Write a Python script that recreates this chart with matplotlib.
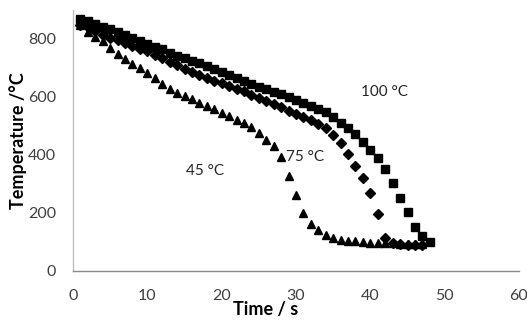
import matplotlib
matplotlib.use("Agg")
import matplotlib.pyplot as plt

# ---- data ----
t_100 = list(range(1, 49))
T_100 = [870, 862, 852, 843, 833, 823, 813, 803, 793, 783,
         773, 764, 752, 742, 733, 724, 716, 707, 697, 687,
         676, 665, 655, 645, 636, 627, 618, 609, 600, 591,
         580, 569, 558, 547, 530, 512, 494, 472, 446, 416,
         390, 352, 304, 253, 204, 152, 121, 100]

t_75 = list(range(1, 48))
T_75 = [850, 840, 828, 815, 805, 795, 786, 777, 767, 757,
        746, 735, 722, 710, 698, 687, 676, 666, 656, 647,
        638, 628, 619, 608, 598, 587, 576, 565, 553, 542,
        532, 520, 508, 492, 470, 442, 405, 361, 321, 270,
        197, 115, 95, 92, 90, 90, 90]

t_45 = list(range(1, 48))
T_45 = [850, 825, 808, 792, 770, 748, 730, 715, 700, 684,
        665, 645, 628, 615, 603, 592, 580, 568, 557, 546,
        534, 522, 510, 495, 476, 453, 430, 393, 327, 263,
        200, 163, 140, 125, 113, 107, 104, 102, 100, 98,
        97, 96, 95, 94, 94, 93, 93]

labels = ["100 °C", "75 °C", "45 °C"]
label_pos = [(41.9, 616), (31.2, 394), (17.8, 346)]

x_ticks = [0, 10, 20, 30, 40, 50, 60]
y_ticks = [0, 200, 400, 600, 800]

plt.rcParams['font.family'] = ['Lato', 'DejaVu Sans']

fig = plt.figure(figsize=(5.27, 3.22), dpi=100)
ax = fig.add_axes([73/527, 1 - 271/322, (519-73)/527, (271-10)/322])

ax.plot(t_100, T_100, linestyle='none', marker='s', markersize=6.0, color='black')
ax.plot(t_75, T_75, linestyle='none', marker='D', markersize=4.6, color='black')
ax.plot(t_45, T_45, linestyle='none', marker='^', markersize=6.2, color='black')

for lab, (x, y) in zip(labels, label_pos):
    ax.text(x, y, lab, ha='center', va='center', fontsize=11, color='#262626')

ax.set_xlim(0, 60)
ax.set_ylim(0, 900)
ax.set_xticks(x_ticks)
ax.set_yticks(y_ticks)
ax.tick_params(length=0, labelsize=11.5, labelcolor='#404040')
ax.tick_params(axis='x', pad=13)
ax.tick_params(axis='y', pad=12)

for s in ['top', 'right']:
    ax.spines[s].set_visible(False)
ax.spines['left'].set_color('#BFBFBF')
ax.spines['bottom'].set_color('#898989')
ax.spines['left'].set_linewidth(1.0)
ax.spines['bottom'].set_linewidth(1.0)

ax.set_xlabel('Time / s', fontsize=13, fontweight='bold', color='black', va='center')
ax.set_ylabel('Temperature /°C', fontsize=13, fontweight='bold', color='black', va='center')
ax.xaxis.set_label_coords((266-73)/(519-73), -(310-271)/261)
ax.yaxis.set_label_coords(-(73-18)/446, (271-141)/261)

fig.savefig('out.png', dpi=100)
